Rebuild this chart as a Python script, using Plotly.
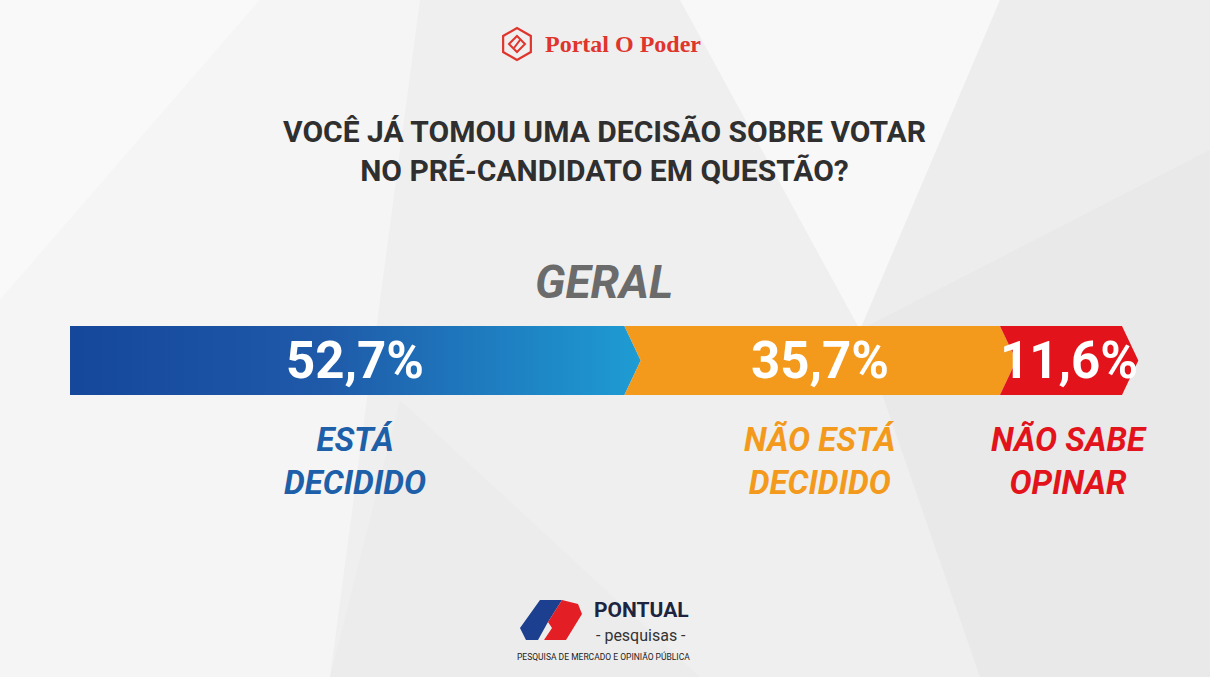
import plotly.graph_objects as go
import math

# ---- data ----
categories = ["ESTÁ<br>DECIDIDO", "NÃO ESTÁ<br>DECIDIDO", "NÃO SABE<br>OPINAR"]
values = [52.7, 35.7, 11.6]
title_lines = ["VOCÊ JÁ TOMOU UMA DECISÃO SOBRE VOTAR", "NO PRÉ-CANDIDATO EM QUESTÃO?"]
subtitle = "GERAL"

# ---- styles ----
W, H = 1210, 677
seg_colors = ["#1b62b0", "#f39a1c", "#e3131b"]
label_colors = ["#1d5fa8", "#f39a1c", "#e3131b"]
blue_grad = [[0, "#15479a"], [0.45, "#1f5aa9"], [1, "#1e9cd4"]]
TIP = 1.55  # arrow tip width in data units

def px(x):
    return x / W

def py(y):
    return 1 - y / H

fig = go.Figure()

# arrow-shaped stacked segments built from cumulative values
start = 0.0
for i, (v, c) in enumerate(zip(values, seg_colors)):
    end = start + v
    notch = start + TIP if i > 0 else start
    xs = [start, end, end + TIP, end, start, notch, start]
    ys = [-0.5, -0.5, 0, 0.5, 0.5, 0, -0.5]
    kw = dict(fillcolor=c)
    if i == 0:
        kw = dict(fillgradient=dict(type="horizontal", colorscale=blue_grad))
    fig.add_trace(go.Scatter(x=xs, y=ys, mode="lines", fill="toself",
                             line=dict(width=0), hoverinfo="skip",
                             showlegend=False, **kw))
    mid = (start + end) / 2 + TIP / 2
    lbl = f"{v:.1f}".replace(".", ",") + "%"
    fig.add_annotation(x=mid, y=0, text=lbl, showarrow=False,
                       font=dict(family="Roboto", size=51, color="white", weight="bold"),
                       xanchor="center", yanchor="middle")
    fig.add_annotation(x=mid, y=-1.46, text=categories[i], showarrow=False,
                       font=dict(family="Roboto", size=33, color=label_colors[i],
                                 weight="bold", style="italic"),
                       xanchor="center", yanchor="middle")
    start = end

# title
fig.add_annotation(xref="paper", yref="paper", x=px(604), y=py(151),
                   text="<br>".join(title_lines),
                   showarrow=False, xanchor="center", yanchor="middle",
                   font=dict(family="Roboto", size=30, color="#2f2f2f", weight="bold"))

fig.add_annotation(xref="paper", yref="paper", x=px(604), y=py(282), text=subtitle,
                   showarrow=False, xanchor="center", yanchor="middle",
                   font=dict(family="Roboto", size=46, color="#6b6b6b",
                             weight="bold", style="italic"))

# top logo
fig.add_annotation(xref="paper", yref="paper", x=px(543), y=py(44), text="Portal O Poder",
                   showarrow=False, xanchor="left", yanchor="middle",
                   font=dict(family="Liberation Serif", size=24, color="#e0352c", weight="bold"))
cx, cy, r = 517, 44, 16
hexpts = [(cx + r * math.cos(math.radians(90 + 60 * k)), cy + r * math.sin(math.radians(90 + 60 * k))) for k in range(6)]
path = "M " + " L ".join(f"{px(a):.5f},{py(b):.5f}" for a, b in hexpts) + " Z"
shapes = [dict(type="path", xref="paper", yref="paper", path=path,
               line=dict(color="#e0352c", width=2.2), fillcolor="rgba(0,0,0,0)", layer="above")]
r2 = 8
dia = [(cx, cy - r2), (cx + r2, cy), (cx, cy + r2), (cx - r2, cy)]
path2 = "M " + " L ".join(f"{px(a):.5f},{py(b):.5f}" for a, b in dia) + " Z"
shapes.append(dict(type="path", xref="paper", yref="paper", path=path2,
                   line=dict(color="#e0352c", width=2), fillcolor="rgba(0,0,0,0)", layer="above"))
path3 = f"M {px(cx-3):.5f},{py(cy+4):.5f} L {px(cx+3):.5f},{py(cy-4):.5f}"
shapes.append(dict(type="path", xref="paper", yref="paper", path=path3,
                   line=dict(color="#e0352c", width=2), layer="above"))

# bottom logo
fig.add_annotation(xref="paper", yref="paper", x=px(641), y=py(610), text="PONTUAL",
                   showarrow=False, xanchor="center", yanchor="middle",
                   font=dict(family="Roboto", size=21, color="#1c2440", weight="bold"))
fig.add_annotation(xref="paper", yref="paper", x=px(641), y=py(635), text="- pesquisas -",
                   showarrow=False, xanchor="center", yanchor="middle",
                   font=dict(family="Roboto", size=16, color="#333333"))
fig.add_annotation(xref="paper", yref="paper", x=px(603), y=py(656),
                   text="PESQUISA DE MERCADO E OPINIÃO PÚBLICA",
                   showarrow=False, xanchor="center", yanchor="middle",
                   font=dict(family="Roboto", size=8.5, color="#222222"))

def poly(pts, color, op=1.0):
    p = "M " + " L ".join(f"{px(a):.5f},{py(b):.5f}" for a, b in pts) + " Z"
    return dict(type="path", xref="paper", yref="paper", path=p, line=dict(width=0),
                fillcolor=color, opacity=op, layer="above")

shapes.append(poly([(520, 628), (540, 600), (562, 600), (548, 622), (538, 640), (526, 640)], "#1d3f8f"))
shapes.append(poly([(548, 622), (562, 600), (578, 604), (582, 614), (566, 640), (544, 640), (552, 628)], "#e31e24"))

# background facets
bg = [
    ([(0, 0), (260, 0), (0, 300)], "#ffffff", 0.6),
    ([(0, 300), (260, 0), (420, 0), (330, 677), (0, 677)], "#ffffff", 0.4),
    ([(680, 0), (1000, 0), (860, 330)], "#ffffff", 0.55),
    ([(860, 330), (1210, 150), (1210, 677), (980, 677)], "#e4e4e4", 0.5),
    ([(400, 400), (700, 677), (330, 677)], "#e8e8e8", 0.45),
    ([(1000, 0), (1210, 0), (1210, 150), (860, 330)], "#ebebeb", 0.5),
]
for pts, col, op in bg:
    d = poly(pts, col, op)
    d["layer"] = "below"
    shapes.insert(0, d)

fig.update_layout(
    width=W, height=H,
    margin=dict(l=0, r=0, t=0, b=0),
    paper_bgcolor="#efefef", plot_bgcolor="rgba(0,0,0,0)",
    xaxis=dict(range=[-70 / 10.52, 100 + 88 / 10.52], visible=False, fixedrange=True),
    yaxis=dict(range=[-0.5 - (677 - 395) / 69, 0.5 + 326 / 69], visible=False, fixedrange=True),
    shapes=shapes,
    showlegend=False,
)

fig.write_html("out.html")
